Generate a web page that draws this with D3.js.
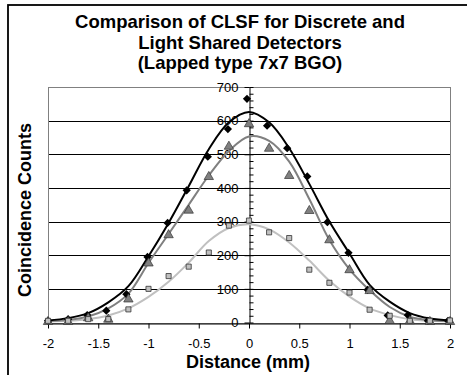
<!DOCTYPE html>
<html>
<head>
<meta charset="utf-8">
<script src="https://cdn.jsdelivr.net/npm/d3@7"></script>
<style>
  html, body { margin: 0; padding: 0; background: #fff; }
  svg { display: block; font-family: Arial, "Liberation Sans", sans-serif; }
</style>
</head>
<body>
<svg id="chart" width="467" height="375"></svg>
<script>
// ---- data ----
const titleLines = ["Comparison of CLSF for Discrete and", "Light Shared Detectors", "(Lapped type 7x7 BGO)"];
const yTitle = "Coincidence Counts";
const xTitle = "Distance (mm)";
const xTicks = [-2, -1.5, -1, -0.5, 0, 0.5, 1, 1.5, 2];
const xTickLabels = ["-2", "-1.5", "-1", "-0.5", "0", "0.5", "1", "1.5", "2"];
const yTicks = [0, 100, 200, 300, 400, 500, 600, 700];

// measured points
const xPositions = [-2, -1.8, -1.6, -1.4, -1.2, -1, -0.8, -0.6, -0.4, -0.2, 0, 0.2, 0.4, 0.6, 0.8, 1, 1.2, 1.4, 1.6, 1.8, 2];
const diamondX = [-2, -1.8, -1.61, -1.42, -1.22, -1.01, -0.81, -0.62, -0.41, -0.21, -0.02, 0.18, 0.38, 0.58, 0.78, 0.99, 1.18, 1.38, 1.58, 1.78, 1.98];
const diamondCounts = [5, 10, 22, 35, 84, 195, 296, 393, 493, 575, 665, 585, 518, 434, 298, 207, 97, 21, 22, 5, 5];
const triangleCounts = [5, 5, 16, 12, 72, 179, 263, 336, 436, 526, 593, 520, 439, 335, 248, 159, 97, 8, 7, 5, 5];
const squareCounts = [5, 5, 10, 10, 39, 100, 138, 166, 208, 288, 303, 268, 251, 157, 118, 89, 38, 20, 5, 5, 6];

// fitted curves (read at 0.2 mm steps)
const fitX = [-2, -1.8, -1.6, -1.4, -1.2, -1, -0.8, -0.6, -0.4, -0.2, 0, 0.2, 0.4, 0.6, 0.8, 1, 1.2, 1.4, 1.6, 1.8, 2];
const fitBlack = [6, 13, 28, 60, 108, 197, 296, 405, 515, 595, 626, 595, 518, 412, 300, 205, 112, 62, 28, 12, 6];
const fitGrey = [4, 8, 18, 42, 86, 177, 263, 350, 437, 510, 553, 540, 478, 367, 245, 158, 96, 46, 17, 7, 4];
const fitLight = [3, 5, 10, 21, 42, 76, 121, 178, 242, 281, 292, 277, 238, 184, 124, 77, 42, 22, 10, 5, 3];

// ---- drawing ----
const svg = d3.select("#chart");
const plot = { left: 48, right: 450, top: 87, bottom: 322.5 };

const x = d3.scaleLinear().domain([-2, 2]).range([plot.left, plot.right]);
const y = d3.scaleLinear().domain([0, 700]).range([plot.bottom, plot.top]);

// outer chart border
svg.append("rect")
  .attr("x", 8).attr("y", 5).attr("width", 480).attr("height", 400)
  .attr("fill", "none").attr("stroke", "#000").attr("stroke-width", 1.8);

// title
const title = svg.append("text")
  .attr("text-anchor", "middle")
  .attr("font-weight", "bold")
  .attr("font-size", 18.5)
  .attr("fill", "#000");
titleLines.forEach((t, i) => {
  title.append("tspan").attr("x", 240).attr("y", 28 + i * 20.6).text(t);
});

// gridlines
svg.append("g")
  .selectAll("line")
  .data(yTicks.filter(v => v > 0 && v < 700))
  .join("line")
  .attr("x1", plot.left).attr("x2", plot.right)
  .attr("y1", d => Math.round(y(d)) + 0.5).attr("y2", d => Math.round(y(d)) + 0.5)
  .attr("stroke", "#000").attr("stroke-width", 1);

// plot border
svg.append("rect")
  .attr("x", plot.left + 0.5).attr("y", Math.round(plot.top) + 0.5)
  .attr("width", plot.right - plot.left)
  .attr("height", Math.round(plot.bottom) - Math.round(plot.top))
  .attr("fill", "none").attr("stroke", "#808080").attr("stroke-width", 1);

// x axis at y = 0
const xAxis = d3.axisBottom(x)
  .tickValues(xTicks)
  .tickFormat((d, i) => xTickLabels[i])
  .tickSizeInner(5).tickSizeOuter(0).tickPadding(10);
const gx = svg.append("g")
  .attr("transform", `translate(0,${Math.round(y(0)) + 0.5})`)
  .call(xAxis);
gx.select(".domain").attr("stroke", "#000");
gx.selectAll(".tick line").attr("stroke", "#000");
gx.selectAll("text").attr("font-size", 13).attr("font-family", "Arial, 'Liberation Sans', sans-serif").attr("fill", "#000");

// y axis at x = 0
const axisX = Math.round(x(0)) + 0.5;
const yAxis = d3.axisLeft(y)
  .tickValues(yTicks)
  .tickFormat(d3.format("d"))
  .tickSizeInner(5).tickSizeOuter(0).tickPadding(6);
const gy = svg.append("g")
  .attr("transform", `translate(${axisX},0)`)
  .call(yAxis);
gy.select(".domain").attr("stroke", "#000");
gy.selectAll(".tick line").attr("stroke", "#000");
gy.selectAll("text").attr("font-size", 13).attr("font-family", "Arial, 'Liberation Sans', sans-serif").attr("fill", "#000");

// minor ticks (inside, every 20)
const yMinor = d3.axisRight(y)
  .tickValues(d3.range(0, 701, 20))
  .tickFormat("")
  .tickSizeInner(4).tickSizeOuter(0);
const gm = svg.append("g")
  .attr("transform", `translate(${axisX},0)`)
  .call(yMinor);
gm.select(".domain").remove();
gm.selectAll(".tick line").attr("stroke", "#000");

// axis titles
svg.append("text")
  .attr("transform", `translate(31,210) rotate(-90)`)
  .attr("text-anchor", "middle")
  .attr("font-weight", "bold").attr("font-size", 18)
  .text(yTitle);
svg.append("text")
  .attr("x", 248).attr("y", 368)
  .attr("text-anchor", "middle")
  .attr("font-weight", "bold").attr("font-size", 18)
  .text(xTitle);

// fitted curves
const line = (vals) => d3.line()
  .x((d, i) => x(fitX[i]))
  .y(d => y(d))
  .curve(d3.curveCatmullRom.alpha(0.5))(vals);

svg.append("path").attr("d", line(fitLight)).attr("fill", "none").attr("stroke", "#c0c0c0").attr("stroke-width", 2);
svg.append("path").attr("d", line(fitGrey)).attr("fill", "none").attr("stroke", "#808080").attr("stroke-width", 2);
svg.append("path").attr("d", line(fitBlack)).attr("fill", "none").attr("stroke", "#000").attr("stroke-width", 2);

// markers
const diamondPath = d3.symbol().type(d3.symbolSquare).size(34)();
const trianglePath = d3.symbol().type(d3.symbolTriangle).size(38)();
const squarePath = d3.symbol().type(d3.symbolSquare).size(26)();

svg.append("g").selectAll("path")
  .data(diamondCounts)
  .join("path")
  .attr("d", diamondPath)
  .attr("transform", (d, i) => `translate(${x(diamondX[i])},${y(d)}) rotate(45)`)
  .attr("fill", "#000");

svg.append("g").selectAll("path")
  .data(triangleCounts)
  .join("path")
  .attr("d", trianglePath)
  .attr("transform", (d, i) => `translate(${x(xPositions[i])},${y(d) + 1})`)
  .attr("fill", "#808080").attr("stroke", "#333").attr("stroke-width", 0.7);

svg.append("g").selectAll("path")
  .data(squareCounts)
  .join("path")
  .attr("d", squarePath)
  .attr("transform", (d, i) => `translate(${x(xPositions[i])},${y(d)})`)
  .attr("fill", "#c0c0c0").attr("stroke", "#333").attr("stroke-width", 0.8);
</script>
</body>
</html>
